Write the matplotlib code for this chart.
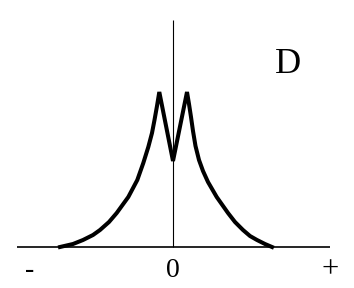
import numpy as np
import matplotlib.pyplot as plt

# profile of the curve (x offset from the origin, height above the axis)
x_left = [-113, -100, -90, -80, -73, -64, -56.3, -44.7, -35.7, -29.7, -24.7, -21, -18.5, -16, -13.7]
y_left = [0, 3, 7, 12, 17, 25, 34, 50, 67, 84, 100, 114, 127, 141, 155]
x_dip = [0]
y_dip = [86]
x_right = [14, 16, 18, 20, 22.5, 26, 30, 35, 43.7, 55, 62, 70, 77, 84, 92, 99]
y_right = [155, 143, 130, 116, 101, 87, 76, 65, 50, 34, 25, 17, 11, 7, 3, 0]

x_curve = np.array(x_left + x_dip + x_right)
y_curve = np.array(y_left + y_dip + y_right)

axis_span = (-156, 157)
vert_top = 227

fig = plt.figure(figsize=(3.54, 2.88), dpi=100)
ax = fig.add_axes([0, 0, 1, 1])
ax.set_xlim(-173, 181)
ax.set_ylim(-41, 247)
ax.axis('off')

# axes drawn by hand
ax.plot(axis_span, [0, 0], color='black', lw=1.2, solid_capstyle='butt')
ax.plot([0, 0], [0, vert_top], color='black', lw=0.8, solid_capstyle='butt')

# the curve
ax.plot(x_curve, y_curve, color='black', lw=2.9, solid_joinstyle='miter')

serif = ['Liberation Serif', 'DejaVu Serif']
ax.text(115, 174, 'D', fontsize=26, family=serif, ha='center', va='baseline')
ax.text(0, -30, '0', fontsize=20, family=serif, ha='center', va='baseline')
ax.text(-143, -30, '-', fontsize=20, family=serif, ha='center', va='baseline')
ax.text(157, -30, '+', fontsize=22, family=serif, ha='center', va='baseline')

fig.savefig('out.png', dpi=100, facecolor='white')
